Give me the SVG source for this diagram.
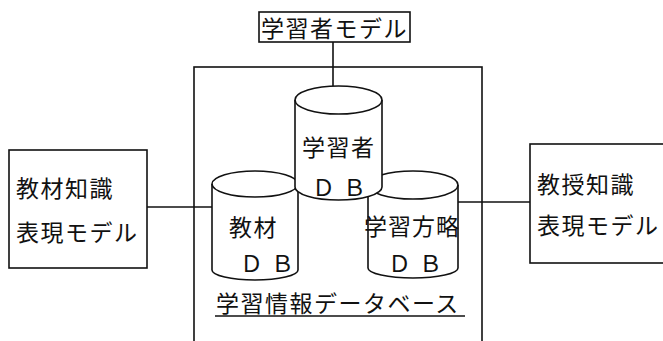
<svg xmlns="http://www.w3.org/2000/svg" width="663" height="341" viewBox="0 0 663 341">
<style>
.ln{fill:none;stroke:#111;stroke-width:1.6}
.bx{fill:#fff;stroke:#111;stroke-width:1.6}
.t{font-family:"Noto Sans CJK JP","Noto Sans CJK SC",sans-serif;font-size:23px;fill:#111;letter-spacing:1.5px}
.db{font-family:"Noto Sans CJK JP",sans-serif;font-size:23px;fill:#111;letter-spacing:8px}
</style>
<rect width="663" height="341" fill="#fff"/>
<g id="database-frame">
<rect class="ln" x="194" y="67" width="288" height="290"/>
<text class="t" x="216" y="312">学習情報データベース</text>
<line class="ln" x1="215" y1="316" x2="465" y2="316"/>
</g>
<g id="connectors">
<line class="ln" x1="333" y1="42" x2="333" y2="86"/>
<line class="ln" x1="147" y1="207" x2="212" y2="207"/>
<line class="ln" x1="458" y1="202" x2="530" y2="202"/>
</g>
<g id="learner-model">
<rect class="bx" x="259" y="12" width="151" height="30"/>
<text class="t" x="261" y="37">学習者モデル</text>
</g>
<g id="material-knowledge">
<rect class="bx" x="9" y="150" width="138" height="118"/>
<text class="t" x="16" y="197">教材知識</text>
<text class="t" x="16" y="241">表現モデル</text>
</g>
<g id="teaching-knowledge">
<rect class="bx" x="530" y="144" width="140" height="119"/>
<text class="t" x="537" y="193">教授知識</text>
<text class="t" x="537" y="234">表現モデル</text>
</g>
<g id="material-db">
<path class="bx" d="M212,184 A43,13 0 0 1 298,184 L298,270 A43,10 0 0 1 212,270 Z"/>
<path class="ln" d="M212,184 A43,13 0 0 0 298,184"/>
<text class="t" x="229" y="236">教材</text>
<text class="db" x="240" y="272">ＤＢ</text>
</g>
<g id="strategy-db">
<path class="bx" d="M368,185 A45,14 0 0 1 458,185 L458,268 A45,10 0 0 1 368,268 Z"/>
<path class="ln" d="M368,185 A45,14 0 0 0 458,185"/>
<text class="t" x="364" y="235" style="letter-spacing:1px">学習方略</text>
<text class="db" x="388" y="272">ＤＢ</text>
</g>
<g id="learner-db">
<path class="bx" d="M295,100 A43.5,14 0 0 1 382,100 L382,187 A43.5,13 0 0 1 295,187 Z"/>
<path class="ln" d="M295,100 A43.5,14 0 0 0 382,100"/>
<text class="t" x="302" y="156">学習者</text>
<text class="db" x="312" y="196">ＤＢ</text>
</g>
</svg>
